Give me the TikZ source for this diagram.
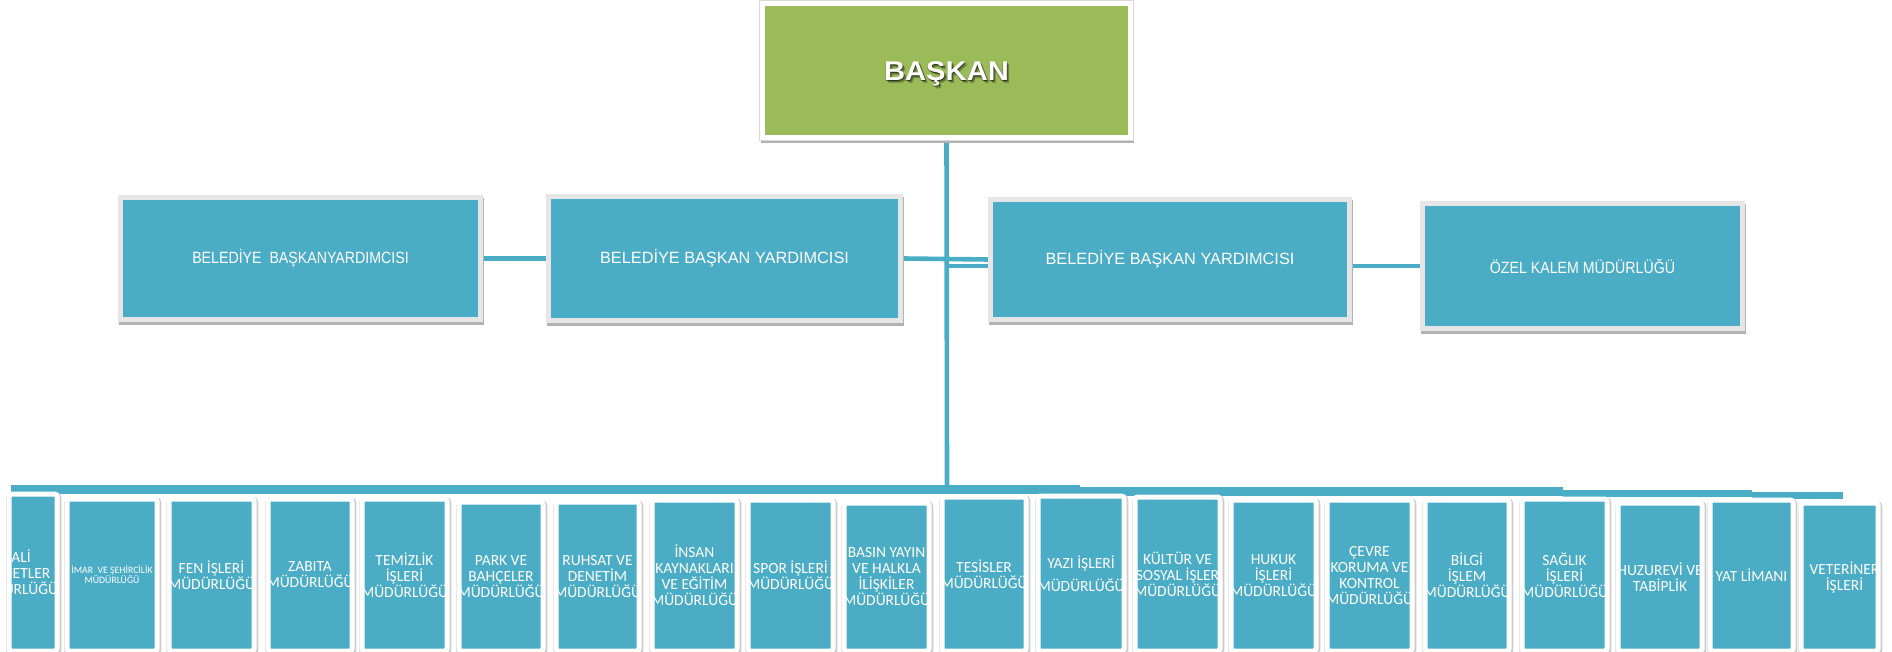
\documentclass[tikz,border=0pt]{standalone}
\usepackage{fontspec}
\setmainfont{Liberation Sans}
\newfontfamily\carlito{Carlito}
\newfontfamily\narrowsans[FakeStretch=0.87]{Liberation Sans}
\newfontfamily\titlefont[FakeStretch=1.08]{Liberation Sans}
\definecolor{accblue}{HTML}{4BACC6}
\definecolor{accgreen}{HTML}{9BBB59}
\definecolor{framegray}{HTML}{E6E6E6}
\pgfdeclarelayer{bg}
\pgfsetlayers{bg,main}
\tikzset{
  conn/.style={draw=accblue, line width=4.6pt},
  busbar/.style={fill=accblue},
  midbox/.style={draw=framegray, line width=5pt, fill=accblue, text=white, inner sep=0pt,
    font=\fontsize{16.3}{16}\selectfont,
    preaction={draw=black!30, fill=black!30, line width=5pt, transform canvas={shift={(0.6pt,-3pt)}}}},
  topbox/.style={draw=white, line width=5pt, fill=accgreen, inner sep=0pt,
    preaction={draw=black!30, line width=5pt, transform canvas={shift={(0.6pt,-3pt)}}},
    preaction={draw=black!15, line width=7pt}},
  deptbox/.style={draw=white, line width=5pt, fill=accblue, rounded corners=2.5pt, inner sep=0pt, anchor=north west,
    preaction={draw=black!20, line width=7pt, transform canvas={shift={(0.8pt,-1.5pt)}}}},
  depttext/.style={text=white, font=\carlito\fontsize{15.5}{16}\selectfont, align=center, inner sep=0pt},
  smalltext/.style={font=\carlito\fontsize{9.8}{10}\selectfont},
  titletext/.style={text=white, font=\titlefont\bfseries\fontsize{27}{27}\selectfont, inner sep=0pt, anchor=base},
  titleshadow/.style={titletext, text=black, opacity=0.22},
}
% name, blue x1, blue x2, blue top, text options, text
\newcommand\deptnode[6]{%
  \node[deptbox, minimum width={(#3-#2+5)*1pt}, minimum height={(651-#4)*1pt}] (#1) at ({#2-2.5},{#4-2.5}) {};
  \begin{scope}
    \clip ([shift={(5pt,-5pt)}]#1.north west) rectangle ([shift={(-5pt,5pt)}]#1.south east);
    \node[depttext,#5] at (#1.center) {#6};
  \end{scope}}
\begin{document}
\begin{tikzpicture}[x=1pt,y=-1pt]
\useasboundingbox (0,0) rectangle (1892,652);

% top and middle row
\node[topbox, minimum width=368pt, minimum height=134pt] (pres) at (946.5,70.5) {};
\coordinate (tb) at ([yshift=-9.8pt]pres.center);
\foreach \dx/\dy in {1/-1.5, 1.8/-2.3, 0.3/-0.8, 2.4/-3, -0.6/-1.2} {
  \node[titleshadow] at ([shift={(\dx pt,\dy pt)}]tb) {BAŞKAN};
}
\node[titletext] (prestext) at (tb) {BAŞKAN};

\node[midbox, minimum width=360pt, minimum height=122pt, font=\narrowsans\fontsize{16.3}{16}\selectfont]
  (vp1) at (300.5,258.5) {BELEDİYE\ \ BAŞKANYARDIMCISI};
\node[midbox, minimum width=352pt, minimum height=124pt] (vp2) at (724.5,258.5) {BELEDİYE BAŞKAN YARDIMCISI};
\node[midbox, minimum width=359pt, minimum height=120pt] (vp3) at (1170,259.5) {BELEDİYE BAŞKAN YARDIMCISI};
\node[midbox, minimum width=320pt, minimum height=125pt, font=\narrowsans\fontsize{16.3}{16}\selectfont]
  (oz) at (1582.5,266) {ÖZEL KALEM MÜDÜRLÜĞÜ};

% bottom row
\deptnode{mali}{9}{52}{494}{xshift=-18.5pt}{MALİ\\HİZMETLER\\MÜDÜRLÜĞÜ}
\deptnode{imar}{67}{152}{499}{smalltext}{İMAR\ \ VE ŞEHİRCİLİK\\MÜDÜRLÜĞÜ}
\deptnode{fen}{169}{249}{499}{}{FEN İŞLERİ\\MÜDÜRLÜĞÜ}
\deptnode{zabita}{268}{347}{499}{}{ZABITA\\MÜDÜRLÜĞÜ}
\deptnode{temiz}{362}{442}{499}{}{TEMİZLİK\\İŞLERİ\\MÜDÜRLÜĞÜ}
\deptnode{park}{459}{538}{502}{}{PARK VE\\BAHÇELER\\MÜDÜRLÜĞÜ}
\deptnode{ruhsat}{556}{634}{502}{}{RUHSAT VE\\DENETİM\\MÜDÜRLÜĞÜ}
\deptnode{insan}{652}{732}{500}{}{İNSAN\\KAYNAKLARI\\VE EĞİTİM\\MÜDÜRLÜĞÜ}
\deptnode{spor}{748}{828}{500}{}{SPOR İŞLERİ\\MÜDÜRLÜĞÜ}
\deptnode{basin}{844}{924}{503}{}{BASIN YAYIN\\VE HALKLA\\İLİŞKİLER\\MÜDÜRLÜĞÜ}
\deptnode{tesis}{942}{1021}{497}{}{TESİSLER\\MÜDÜRLÜĞÜ}
\deptnode{yazi}{1038}{1119}{496}{}{YAZI İŞLERİ\\[7pt]MÜDÜRLÜĞÜ}
\deptnode{kultur}{1135}{1215}{497}{}{KÜLTÜR VE\\SOSYAL İŞLER\\MÜDÜRLÜĞÜ}
\deptnode{hukuk}{1231}{1311}{500}{}{HUKUK\\İŞLERİ\\MÜDÜRLÜĞÜ}
\deptnode{cevre}{1327}{1407}{500}{}{ÇEVRE\\KORUMA VE\\KONTROL\\MÜDÜRLÜĞÜ}
\deptnode{bilgi}{1425}{1504}{500}{}{BİLGİ\\İŞLEM\\MÜDÜRLÜĞÜ}
\deptnode{saglik}{1522}{1602}{499}{}{SAĞLIK\\İŞLERİ\\MÜDÜRLÜĞÜ}
\deptnode{huzur}{1618}{1697}{503}{}{HUZUREVİ VE\\TABİPLİK}
\deptnode{yat}{1710}{1788}{500}{}{YAT LİMANI}
\deptnode{vet}{1801}{1873}{503}{xshift=5pt}{VETERİNER\\İŞLERİ}

% connectors behind the boxes
\begin{pgfonlayer}{bg}
  \coordinate (spx) at (947,0);
  \coordinate (bus) at (947,487);
  \draw[conn] (pres.south) -- (bus);
  \draw[conn] (vp1.east) -- (vp2.west);
  \draw[conn] (vp2.east) -- (vp3.west);
  \draw[conn] (spx |- oz.west) -- (oz.west);
  \fill[busbar] (11,485) rectangle (1080,494);
  \fill[busbar] (1080,487) rectangle (1563,496);
  \fill[busbar] (1563,489.5) rectangle (1752,497);
  \fill[busbar] (1752,491.5) rectangle (1843,499);
\end{pgfonlayer}
\end{tikzpicture}
\end{document}
